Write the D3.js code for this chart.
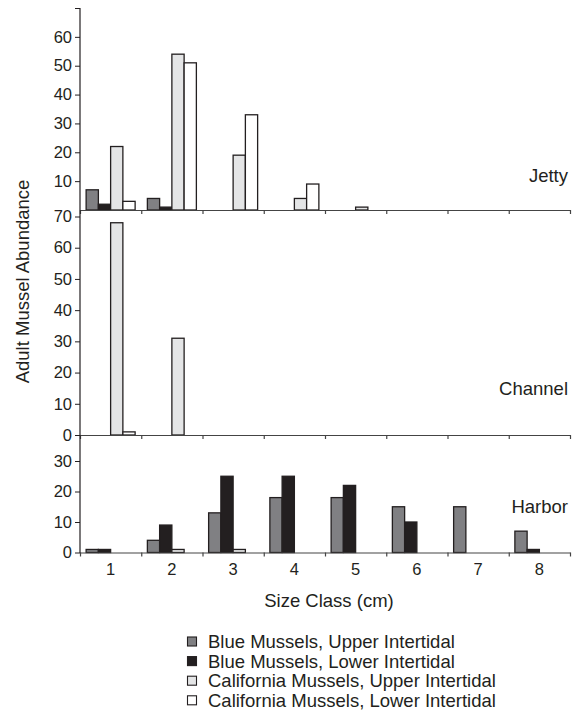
<!DOCTYPE html>
<html>
<head>
<meta charset="utf-8">
<script src="https://cdn.jsdelivr.net/npm/d3@7"></script>
<style>
  body { margin: 0; background: #fff; }
  svg { display: block; }
  text { font-family: "Liberation Sans", Arial, Helvetica, sans-serif; fill: #231f20; }
</style>
</head>
<body>
<svg id="chart" width="580" height="713"></svg>
<script>
// ---- Data ----
const categories = ["1", "2", "3", "4", "5", "6", "7", "8"];
const seriesNames = [
  "Blue Mussels, Upper Intertidal",
  "Blue Mussels, Lower Intertidal",
  "California Mussels, Upper Intertidal",
  "California Mussels, Lower Intertidal"
];
const siteNames = ["Jetty", "Channel", "Harbor"];

// Jetty
const jettyBlueUpper = [7, 4, 0, 0, 0, 0, 0, 0];
const jettyBlueLower = [2, 1, 0, 0, 0, 0, 0, 0];
const jettyCalUpper  = [22, 54, 19, 4, 1, 0, 0, 0];
const jettyCalLower  = [3, 51, 33, 9, 0, 0, 0, 0];
// Channel
const channelBlueUpper = [0, 0, 0, 0, 0, 0, 0, 0];
const channelBlueLower = [0, 0, 0, 0, 0, 0, 0, 0];
const channelCalUpper  = [68, 31, 0, 0, 0, 0, 0, 0];
const channelCalLower  = [1, 0, 0, 0, 0, 0, 0, 0];
// Harbor
const harborBlueUpper = [1, 4, 13, 18, 18, 15, 15, 7];
const harborBlueLower = [1, 9, 25, 25, 22, 10, 0, 1];
const harborCalUpper  = [0, 1, 1, 0, 0, 0, 0, 0];
const harborCalLower  = [0, 0, 0, 0, 0, 0, 0, 0];

const jettyTicks = [10, 20, 30, 40, 50, 60];
const channelTicks = [0, 10, 20, 30, 40, 50, 60, 70];
const harborTicks = [0, 10, 20, 30];

const yTitle = "Adult Mussel Abundance";
const xTitle = "Size Class (cm)";

// ---- Styles / layout ----
const fills = ["#808083", "#231f20", "#e4e5e6", "#ffffff"];
const ink = "#231f20";
const xLeft = 80, xRight = 570;

const panels = [
  { name: siteNames[0], series: [jettyBlueUpper, jettyBlueLower, jettyCalUpper, jettyCalLower],
    domain: [0, 70], range: [210, 8], ticks: jettyTicks, extraTicks: [70], axisTop: 8, labelY: 182 },
  { name: siteNames[1], series: [channelBlueUpper, channelBlueLower, channelCalUpper, channelCalLower],
    domain: [0, 70], range: [435, 216.5], ticks: channelTicks, extraTicks: [], axisTop: 210, labelY: 395 },
  { name: siteNames[2], series: [harborBlueUpper, harborBlueLower, harborCalUpper, harborCalLower],
    domain: [0, 30], range: [552.5, 461], ticks: harborTicks, extraTicks: [], axisTop: 435, labelY: 513 }
];

const svg = d3.select("#chart");

const x = d3.scaleBand().domain(categories).range([xLeft, xRight]).paddingInner(0).paddingOuter(0);
const bw = x.bandwidth();
const xs = d3.scaleBand().domain(d3.range(4)).range([bw * 0.1, bw * 0.9]).padding(0);
const xEdges = d3.scaleLinear().domain([0, categories.length]).range([xLeft, xRight]);

panels.forEach(p => {
  const y = d3.scaleLinear().domain(p.domain).range(p.range);
  const g = svg.append("g");

  // bars
  p.series.forEach((vals, si) => {
    g.append("g").selectAll("rect")
      .data(vals.map((v, i) => ({ c: categories[i], v })).filter(d => d.v > 0))
      .join("rect")
      .attr("x", d => x(d.c) + xs(si))
      .attr("width", xs.bandwidth())
      .attr("y", d => y(d.v))
      .attr("height", d => y(0) - y(d.v))
      .attr("fill", fills[si])
      .attr("stroke", ink)
      .attr("stroke-width", 1.3);
  });

  // baseline with boundary ticks
  const xa = g.append("g").attr("transform", `translate(0,${y(0)})`)
    .call(d3.axisBottom(xEdges).tickValues(d3.range(categories.length + 1)).tickSize(4).tickSizeOuter(0).tickFormat(""));
  xa.select(".domain").attr("stroke", "#444").attr("stroke-width", 1.2);
  xa.selectAll(".tick line").attr("stroke", "#444").attr("stroke-width", 1.2);

  // y axis
  const ya = g.append("g").attr("transform", `translate(${xLeft},0)`)
    .call(d3.axisLeft(y).tickValues(p.ticks.concat(p.extraTicks)).tickSize(5).tickPadding(3)
      .tickFormat(d => p.extraTicks.includes(d) ? "" : d));
  ya.select(".domain").remove();
  ya.selectAll(".tick line").attr("stroke", ink).attr("stroke-width", 1);
  ya.selectAll(".tick text").style("font-size", "16.5px").attr("fill", ink)
    .style("font-family", '"Liberation Sans", Arial, sans-serif');

  // site label
  g.append("text")
    .attr("x", 568).attr("y", p.labelY)
    .attr("text-anchor", "end")
    .style("font-size", "18.5px")
    .text(p.name);
});

// continuous y axis line
svg.append("line")
  .attr("x1", xLeft).attr("x2", xLeft)
  .attr("y1", panels[0].axisTop).attr("y2", 553)
  .attr("stroke", ink).attr("stroke-width", 1.2);

// x tick labels
const xl = svg.append("g").attr("transform", "translate(0,559)")
  .call(d3.axisBottom(x).tickSize(0).tickPadding(4));
xl.select(".domain").remove();
xl.selectAll(".tick text").style("font-size", "16.5px").attr("fill", ink)
  .style("font-family", '"Liberation Sans", Arial, sans-serif');

// x title
svg.append("text")
  .attr("x", 329).attr("y", 607)
  .attr("text-anchor", "middle")
  .style("font-size", "18.5px")
  .text(xTitle);

// y title
svg.append("text")
  .attr("transform", "translate(29,281.5) rotate(-90)")
  .attr("text-anchor", "middle")
  .style("font-size", "18.5px")
  .text(yTitle);

// legend
const leg = svg.append("g");
seriesNames.forEach((name, i) => {
  const cy = 641.5 + i * 19.6;
  leg.append("rect")
    .attr("x", 187.5).attr("y", cy - 4.5)
    .attr("width", 9).attr("height", 9)
    .attr("fill", fills[i]).attr("stroke", ink).attr("stroke-width", 1.1);
  leg.append("text")
    .attr("x", 208).attr("y", cy + 6.5)
    .style("font-size", "18.5px")
    .text(name);
});
</script>
</body>
</html>
